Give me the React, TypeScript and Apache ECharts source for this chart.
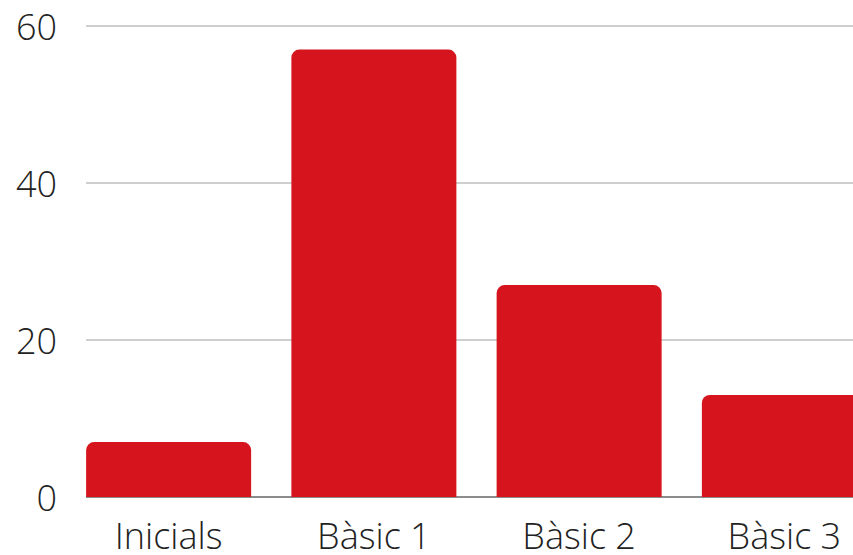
import React, { useEffect, useRef } from "react";
import * as echarts from "echarts";

const categories = ["Inicials", "Bàsic 1", "Bàsic 2", "Bàsic 3"];
const values = [7, 57, 27, 13];
const yTicks = { min: 0, max: 60, interval: 20 };

export default function App() {
  const ref = useRef<HTMLDivElement>(null);
  useEffect(() => {
    if (!ref.current) return;
    const chart = echarts.init(ref.current, undefined, { renderer: "svg" });
    const font = {
      fontFamily: "Open Sans",
      fontWeight: 300 as any,
      fontSize: 36,
      color: "#222",
    };
    chart.setOption({
      animation: false,
      backgroundColor: "#fff",
      grid: [
        { left: 86, width: 781, top: 26, bottom: 58 },
        { left: 66, width: 821, top: 26, bottom: 58 },
      ],
      xAxis: [
        { gridIndex: 0, type: "value", show: false, min: 0, max: 1 },
        {
          gridIndex: 1,
          type: "category",
          data: categories,
          axisLine: { show: false },
          axisTick: { show: false },
          axisLabel: { ...font, lineHeight: 36, margin: 20 },
        },
      ],
      yAxis: [
        {
          gridIndex: 0,
          type: "value",
          min: yTicks.min,
          max: yTicks.max,
          interval: yTicks.interval,
          axisLine: { show: false },
          axisTick: { show: false },
          axisLabel: { ...font, margin: 29 },
          splitLine: {
            show: true,
            lineStyle: { color: ["#666666", "#bfbfbf", "#bfbfbf", "#bfbfbf"], width: 1.5 },
          },
        },
        {
          gridIndex: 1,
          type: "value",
          min: yTicks.min,
          max: yTicks.max,
          interval: yTicks.interval,
          show: false,
          splitLine: { show: false },
        },
      ],
      series: [
        {
          type: "bar",
          xAxisIndex: 1,
          yAxisIndex: 1,
          data: values,
          barWidth: 165,
          itemStyle: { color: "#d5141d", borderRadius: [8, 8, 0, 0] },
          z: 1,
        },
      ],
    });
    return () => chart.dispose();
  }, []);
  return (
    <div
      style={{
        position: "fixed",
        left: 0,
        top: 0,
        width: 853,
        height: 555,
        overflow: "hidden",
        background: "#fff",
      }}
    >
      <div ref={ref} style={{ width: 900, height: 555 }} />
    </div>
  );
}
